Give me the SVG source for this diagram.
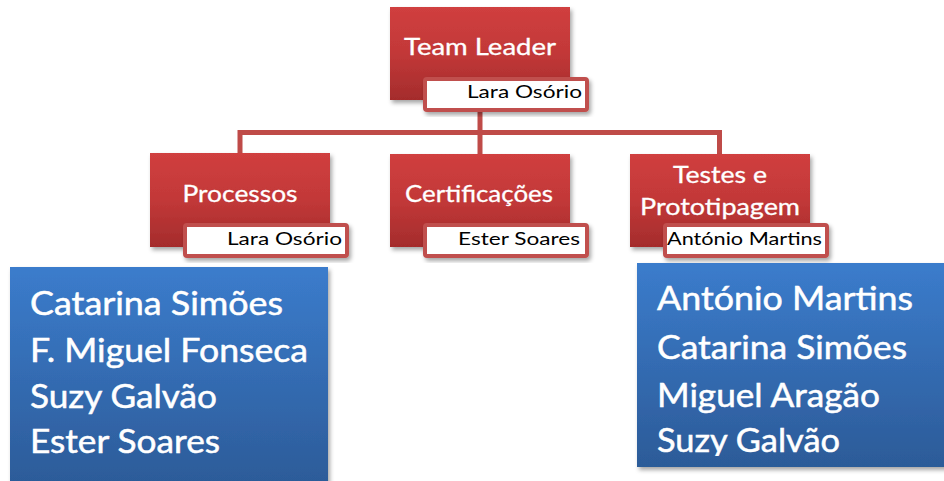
<svg xmlns="http://www.w3.org/2000/svg" width="944" height="481" viewBox="0 0 944 481">
  <defs>
    <linearGradient id="redFill" x1="0" y1="0" x2="0" y2="1">
      <stop offset="0" stop-color="#d03f3f"/>
      <stop offset="0.5" stop-color="#c23838"/>
      <stop offset="1" stop-color="#a42c2c"/>
    </linearGradient>
    <linearGradient id="blueFill" x1="0" y1="0" x2="0" y2="1">
      <stop offset="0" stop-color="#3b7ccc"/>
      <stop offset="1" stop-color="#2c5b98"/>
    </linearGradient>
    <filter id="shadow" x="-10%" y="-10%" width="125%" height="130%">
      <feDropShadow dx="2" dy="3" stdDeviation="2" flood-color="#000" flood-opacity="0.35"/>
    </filter>
    <clipPath id="rightClip">
      <rect x="637" y="263" width="307" height="193"/>
    </clipPath>
  </defs>
  <style>
    .role { fill: url(#redFill); filter: url(#shadow); }
    .tag { fill: #ffffff; stroke: #c0504d; stroke-width: 4; filter: url(#shadow); }
    .team { fill: url(#blueFill); filter: url(#shadow); }
    .title { font-family: Lato, "Open Sans", sans-serif; font-size: 24px; fill: #ffffff; stroke: #ffffff; stroke-width: 0.3; text-anchor: middle; }
    .name { font-family: Lato, "Open Sans", sans-serif; font-size: 17px; fill: #000000; text-anchor: end; }
    .member { font-family: Lato, "Open Sans", sans-serif; font-size: 32px; fill: #ffffff; stroke: #ffffff; stroke-width: 0.5; }
    .link { fill: none; stroke: #bf4b48; stroke-width: 5; stroke-linejoin: miter; }
  </style>

  <!-- connectors -->
  <g id="connectors">
    <path class="link" d="M480 110 V132.5"/>
    <path class="link" d="M240 155 V132.5 H719.5 V155"/>
    <path class="link" d="M480 132.5 V155"/>
  </g>

  <!-- top node -->
  <g id="team-leader">
    <rect class="role" x="390" y="7" width="180" height="93"/>
    <text class="title" x="480" y="55" textLength="152" lengthAdjust="spacingAndGlyphs">Team Leader</text>
    <rect class="tag" x="425" y="79" width="162" height="31" rx="2"/>
    <text class="name" x="582" y="98" textLength="115" lengthAdjust="spacingAndGlyphs">Lara Osório</text>
  </g>

  <g id="processos">
    <rect class="role" x="150" y="153" width="180" height="94"/>
    <text class="title" x="240" y="202" textLength="115" lengthAdjust="spacingAndGlyphs">Processos</text>
    <rect class="tag" x="185" y="225" width="162" height="31" rx="2"/>
    <text class="name" x="342" y="245" textLength="115" lengthAdjust="spacingAndGlyphs">Lara Osório</text>
  </g>

  <g id="certificacoes">
    <rect class="role" x="390" y="154" width="180" height="93"/>
    <text class="title" x="479" y="202" textLength="148" lengthAdjust="spacingAndGlyphs">Certificações</text>
    <rect class="tag" x="425" y="225" width="162" height="31" rx="2"/>
    <text class="name" x="580" y="245" textLength="122" lengthAdjust="spacingAndGlyphs">Ester Soares</text>
  </g>

  <g id="testes-prototipagem">
    <rect class="role" x="630" y="154" width="180" height="93"/>
    <text class="title" x="720" y="183" textLength="94" lengthAdjust="spacingAndGlyphs">Testes e</text>
    <text class="title" x="720" y="215" textLength="160" lengthAdjust="spacingAndGlyphs">Prototipagem</text>
    <rect class="tag" x="665" y="225" width="162" height="31" rx="2"/>
    <text class="name" x="822" y="245" textLength="155" lengthAdjust="spacingAndGlyphs">António Martins</text>
  </g>

  <!-- team member lists -->
  <g id="equipa-processos">
    <rect class="team" x="10" y="267" width="318" height="220"/>
    <text class="member" x="30" y="315" textLength="253" lengthAdjust="spacingAndGlyphs">Catarina Simões</text>
    <text class="member" x="30" y="362" textLength="278" lengthAdjust="spacingAndGlyphs">F. Miguel Fonseca</text>
    <text class="member" x="30" y="408" textLength="187" lengthAdjust="spacingAndGlyphs">Suzy Galvão</text>
    <text class="member" x="30" y="453" textLength="190" lengthAdjust="spacingAndGlyphs">Ester Soares</text>
  </g>

  <g id="equipa-testes">
    <rect class="team" x="637" y="263" width="320" height="204"/>
    <g clip-path="url(#rightClip)">
      <text class="member" x="657" y="310" textLength="256" lengthAdjust="spacingAndGlyphs">António Martins</text>
      <text class="member" x="657" y="359" textLength="250" lengthAdjust="spacingAndGlyphs">Catarina Simões</text>
      <text class="member" x="657" y="407" textLength="223" lengthAdjust="spacingAndGlyphs">Miguel Aragão</text>
      <text class="member" x="657" y="452" textLength="183" lengthAdjust="spacingAndGlyphs">Suzy Galvão</text>
    </g>
  </g>
</svg>
